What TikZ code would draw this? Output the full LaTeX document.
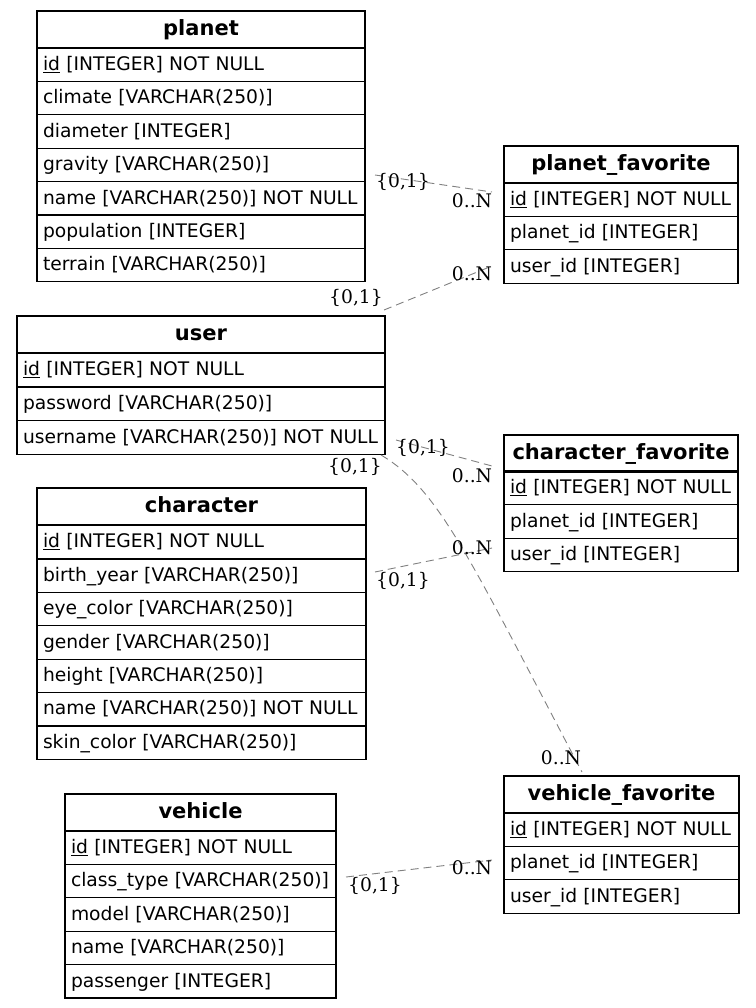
\documentclass[tikz,border=0pt]{standalone}
\usepackage{fontspec}
\setmainfont{DejaVu Sans}
\newfontfamily\cardfont{DejaVu Serif}
\begin{document}
\begin{tikzpicture}[x=1pt,y=-1pt]
  \tikzset{ hd/.style={draw,line width=1.2pt,anchor=north west,inner sep=0pt,outer sep=0pt,
      minimum height=37,minimum width=#1,text height=18pt,text depth=6pt,
      font=\fontsize{21}{24}\selectfont\bfseries},
    row/.style={draw,line width=1.2pt,anchor=north west,inner ysep=0pt,inner xsep=6pt,
      outer sep=0pt,minimum height=33.4,text width=#1,text height=16pt,text depth=4.5pt,
      align=left,font=\fontsize{18.7}{22}\selectfont},
    rel/.style={draw=gray,line width=0.9pt,dash pattern=on 8pt off 5pt},
    card/.style={inner sep=0pt,font=\cardfont\fontsize{18.7}{22}\selectfont},
  }
  \useasboundingbox (0,0) rectangle (755,1008);

  % planet
  \node[hd=328] (planet) at (37,11) {planet};
  \foreach \t [count=\i] in {{\underline{id} [INTEGER] NOT NULL},{climate [VARCHAR(250)]},
      {diameter [INTEGER]},{gravity [VARCHAR(250)]},{name [VARCHAR(250)] NOT NULL},
      {population [INTEGER]},{terrain [VARCHAR(250)]}}
    \node[row=316] (planet-\i) at (37,48+33.4*\i-33.4) {\t};

  % planet_favorite
  \node[hd=234] (pfav) at (504,146) {planet\_favorite};
  \foreach \t [count=\i] in {{\underline{id} [INTEGER] NOT NULL},{planet\_id [INTEGER]},
      {user\_id [INTEGER]}}
    \node[row=222] (pfav-\i) at (504,183+33.4*\i-33.4) {\t};

  % user
  \node[hd=368] (user) at (17,316) {user};
  \foreach \t [count=\i] in {{\underline{id} [INTEGER] NOT NULL},{password [VARCHAR(250)]},
      {username [VARCHAR(250)] NOT NULL}}
    \node[row=356] (user-\i) at (17,353+33.9*\i-33.9) {\t};

  % character_favorite
  \node[hd=234] (cfav) at (504,435) {character\_favorite};
  \foreach \t [count=\i] in {{\underline{id} [INTEGER] NOT NULL},{planet\_id [INTEGER]},
      {user\_id [INTEGER]}}
    \node[row=222] (cfav-\i) at (504,471+33.7*\i-33.7) {\t};

  % character
  \node[hd=329] (character) at (37,488) {character};
  \foreach \t [count=\i] in {{\underline{id} [INTEGER] NOT NULL},{birth\_year [VARCHAR(250)]},
      {eye\_color [VARCHAR(250)]},{gender [VARCHAR(250)]},{height [VARCHAR(250)]},
      {name [VARCHAR(250)] NOT NULL},{skin\_color [VARCHAR(250)]}}
    \node[row=317] (character-\i) at (37,525.5+33.4*\i-33.4) {\t};

  % vehicle_favorite
  \node[hd=235] (vfav) at (504,776) {vehicle\_favorite};
  \foreach \t [count=\i] in {{\underline{id} [INTEGER] NOT NULL},{planet\_id [INTEGER]},
      {user\_id [INTEGER]}}
    \node[row=223] (vfav-\i) at (504,813+33.4*\i-33.4) {\t};

  % vehicle
  \node[hd=271] (vehicle) at (65,794) {vehicle};
  \foreach \t [count=\i] in {{\underline{id} [INTEGER] NOT NULL},{class\_type [VARCHAR(250)]},
      {model [VARCHAR(250)]},{name [VARCHAR(250)]},{passenger [INTEGER]}}
    \node[row=259] (vehicle-\i) at (65,831+33.4*\i-33.4) {\t};

  % the relations between the tables
  \coordinate (p1) at (375,175);  \coordinate (pf1) at (492,192);
  \coordinate (u1) at (384,310);  \coordinate (pf2) at (492,266);
  \coordinate (u2) at (396,440);  \coordinate (cf1) at (492,466);
  \coordinate (u3) at (381,455);  \coordinate (vf1) at (582,772);
  \coordinate (c1) at (375,572);  \coordinate (cf2) at (492,548);
  \coordinate (v1) at (346,877);  \coordinate (vf2) at (492,860);

  \draw[rel] (p1) -- (pf1);
  \draw[rel] (u1) -- (pf2);
  \draw[rel] (u2) -- (cf1);
  \draw[rel] (u3) .. controls (440,490) and (470,560) .. (vf1);
  \draw[rel] (c1) -- (cf2);
  \draw[rel] (v1) -- (vf2);

  \node[card] (l1a) at (403,182) {\{0,1\}};
  \node[card] (l1b) at (472,201) {0..N};
  \node[card] (l2a) at (356,298) {\{0,1\}};
  \node[card] (l2b) at (472,274) {0..N};
  \node[card] (l3a) at (423,448) {\{0,1\}};
  \node[card] (l3b) at (472,476) {0..N};
  \node[card] (l4a) at (355,467) {\{0,1\}};
  \node[card] (l4b) at (561,758) {0..N};
  \node[card] (l5a) at (403,581) {\{0,1\}};
  \node[card] (l5b) at (472,548) {0..N};
  \node[card] (l6a) at (375,886) {\{0,1\}};
  \node[card] (l6b) at (472,868) {0..N};
\end{tikzpicture}
\end{document}
